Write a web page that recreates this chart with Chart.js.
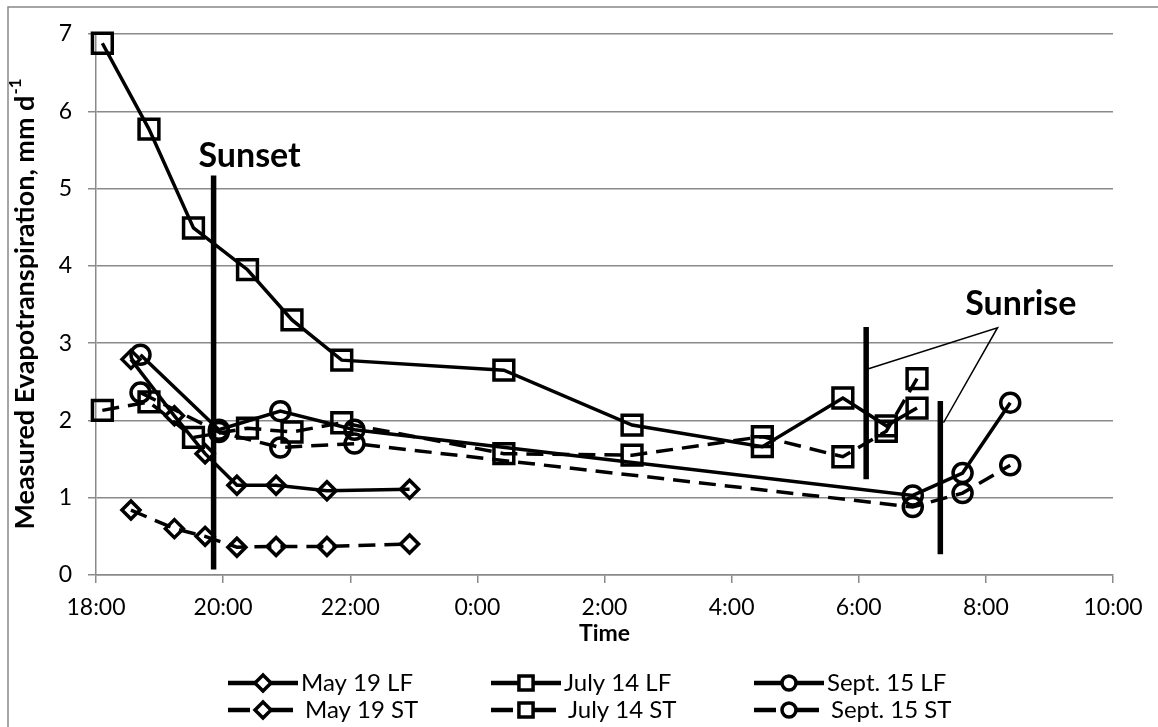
<!DOCTYPE html>
<html><head><meta charset="utf-8">
<script src="https://cdn.jsdelivr.net/npm/chart.js@4.4.1/dist/chart.umd.min.js"></script>
<style>html,body{margin:0;padding:0;background:#fff}#wrap{width:1158px;height:727px;position:relative}</style>
</head><body><div id="wrap"><canvas id="c" width="1158" height="727"></canvas></div>
<script>
// ---------- data ----------
const xTickLabels = ["18:00","20:00","22:00","0:00","2:00","4:00","6:00","8:00","10:00"];
const yTickLabels = ["0","1","2","3","4","5","6","7"];

const mayTimes = ["18:33","19:14","19:43","20:13","20:50","21:38","22:56"];
const mayLF    = [2.79, 2.06, 1.57, 1.16, 1.16, 1.09, 1.11];
const mayST    = [0.84, 0.60, 0.50, 0.36, 0.37, 0.37, 0.40];

const julyTimes = ["18:06","18:50","19:32","20:23","21:05","21:52","00:25","02:26","04:29","05:45","06:26","06:55"];
const julyLF    = [6.88, 5.77, 4.49, 3.95, 3.30, 2.78, 2.65, 1.94, 1.66, 2.29, 1.93, 2.16];
const julyST    = [2.13, 2.24, 1.78, 1.90, 1.85, 1.97, 1.57, 1.55, 1.79, 1.53, 1.86, 2.54];

const septTimes = ["18:42","19:56","20:54","22:04","06:51","07:38","08:23"];
const septLF    = [2.85, 1.88, 2.12, 1.88, 1.03, 1.32, 2.23];
const septST    = [2.36, 1.85, 1.65, 1.70, 0.88, 1.06, 1.42];

const sunsetTime = "19:51";
const sunsetSpan = [0.07, 5.17];
const sunriseTimes = ["06:07","07:17"];
const sunriseSpans = [[1.24, 3.21], [0.27, 2.25]];
const calloutTimes  = ["06:07","08:11","07:20"];
const calloutValues = [2.66, 3.20, 1.97];

const seriesNames = ["May 19 LF","July 14 LF","Sept. 15 LF","May 19 ST","July 14 ST","Sept. 15 ST"];

// ---------- helpers ----------
function toHours(t){ const [h,m] = t.split(':').map(Number); return (h < 12 ? h + 24 : h) + m/60; }
function pts(times, vals){ return times.map((t,i)=>({x: toHours(t), y: vals[i]})); }

const FONT = 'Lato, "Open Sans", "Liberation Sans", sans-serif';
Chart.defaults.font.family = FONT;
Chart.defaults.color = '#000';
const GRID = '#8a8a8a';
const DASH = [17, 9];

function series(label, data, style, dashed, radius){
  return {label, data, borderColor:'#000', borderWidth:3.5, borderDash: dashed ? DASH : [],
    pointStyle: style, pointRadius: radius, pointHoverRadius: radius, pointBorderWidth:3.5,
    pointBorderColor:'#000', pointBackgroundColor:'rgba(0,0,0,0)', fill:false, tension:0, clip:false};
}
function refLine(data, width){
  return {data, borderColor:'#000', borderWidth: width, pointRadius:0, pointHoverRadius:0, fill:false, tension:0, clip:false};
}

const datasets = [
  refLine([{x:toHours(sunsetTime), y:sunsetSpan[0]},{x:toHours(sunsetTime), y:sunsetSpan[1]}], 5.5),
  refLine([{x:toHours(sunriseTimes[0]), y:sunriseSpans[0][0]},{x:toHours(sunriseTimes[0]), y:sunriseSpans[0][1]}], 5.5),
  refLine([{x:toHours(sunriseTimes[1]), y:sunriseSpans[1][0]},{x:toHours(sunriseTimes[1]), y:sunriseSpans[1][1]}], 5.5),
  refLine(pts(calloutTimes, calloutValues), 1.5),
  series(seriesNames[0], pts(mayTimes, mayLF), 'rectRot', false, 9),
  series(seriesNames[1], pts(julyTimes, julyLF), 'rect', false, 14),
  series(seriesNames[2], pts(septTimes, septLF), 'circle', false, 9.5),
  series(seriesNames[3], pts(mayTimes, mayST), 'rectRot', true, 9),
  series(seriesNames[4], pts(julyTimes, julyST), 'rect', true, 14),
  series(seriesNames[5], pts(septTimes, septST), 'circle', true, 9.5),
];

function drawMarker(ctx, style, x, y, r){
  ctx.beginPath();
  if (style === 'rect'){ const s = r*Math.SQRT1_2; ctx.rect(x-s, y-s, 2*s, 2*s); }
  else if (style === 'rectRot'){ ctx.moveTo(x-r,y); ctx.lineTo(x,y-r); ctx.lineTo(x+r,y); ctx.lineTo(x,y+r); ctx.closePath(); }
  else { ctx.arc(x,y,r,0,Math.PI*2); }
  ctx.fillStyle = '#fff'; ctx.fill();
  ctx.stroke();
}

const decor = {
  id:'decor',
  beforeDraw(chart){
    const ctx = chart.ctx;
    ctx.save();
    ctx.fillStyle = '#fff'; ctx.fillRect(0,0,chart.width,chart.height);
    ctx.strokeStyle = '#888'; ctx.lineWidth = 1.5;
    ctx.beginPath(); ctx.moveTo(8, chart.height+2); ctx.lineTo(8, 7); ctx.lineTo(chart.width+2, 7); ctx.stroke();
    ctx.restore();
  },
  afterDraw(chart){
    const ctx = chart.ctx, xs = chart.scales.x, ys = chart.scales.y, area = chart.chartArea;
    ctx.save();
    ctx.fillStyle = '#000';
    // annotation labels
    ctx.font = 'bold 34px ' + FONT;
    ctx.textAlign = 'center'; ctx.textBaseline = 'middle';
    ctx.fillText('Sunset', xs.getPixelForValue(toHours("20:25")), ys.getPixelForValue(5.42));
    ctx.fillText('Sunrise', xs.getPixelForValue(toHours("08:33")), ys.getPixelForValue(3.50));
    // x title
    ctx.font = 'bold 23px ' + FONT;
    ctx.fillText('Time', (area.left+area.right)/2, 634);
    // y title with superscript
    ctx.save();
    ctx.translate(24, (area.top+area.bottom)/2);
    ctx.rotate(-Math.PI/2);
    const main = 'Measured Evapotranspiration, mm d';
    ctx.font = 'bold 27px ' + FONT;
    const w1 = ctx.measureText(main).width;
    ctx.font = 'bold 17px ' + FONT;
    const w2 = ctx.measureText('-1').width;
    const start = -(w1+w2)/2;
    ctx.textAlign = 'left'; ctx.textBaseline = 'alphabetic';
    ctx.font = 'bold 27px ' + FONT;
    ctx.fillText(main, start, 10);
    ctx.font = 'bold 17px ' + FONT;
    ctx.fillText('-1', start + w1 + 1, -3);
    ctx.restore();
    // legend
    const cols = [228, 491, 754], rows = [683, 710];
    const styles = ['rectRot','rect','circle'];
    const mr = {rectRot:8, rect:10, circle:7};
    ctx.strokeStyle = '#000';
    for (let r=0;r<2;r++){
      for (let c=0;c<3;c++){
        const x0 = cols[c], y = rows[r];
        ctx.lineWidth = 4.5;
        ctx.setLineDash(r===1 ? [22,21] : []);
        ctx.beginPath(); ctx.moveTo(x0, y); ctx.lineTo(x0+70, y); ctx.stroke();
        ctx.setLineDash([]);
        ctx.lineWidth = 3.5;
        drawMarker(ctx, styles[c], x0+35, y, mr[styles[c]]);
        ctx.font = '24px ' + FONT; ctx.textAlign='left'; ctx.textBaseline='middle'; ctx.fillStyle='#000';
        ctx.fillText(seriesNames[r*3+c], x0 + 73 + (r===1?4:0), y);
      }
    }
    ctx.restore();
  }
};

new Chart(document.getElementById('c'), {
  type:'line',
  data:{datasets},
  options:{
    responsive:false, animation:false, events:[],
    layout:{padding:{left:0, right:45, top:34, bottom:0}},
    plugins:{legend:{display:false}, tooltip:{enabled:false}},
    scales:{
      x:{type:'linear', min:18, max:34,
        ticks:{stepSize:2, autoSkip:false, maxRotation:0, padding:11, font:{size:23}, color:'#000',
          callback:(v)=>xTickLabels[Math.round((v-18)/2)]},
        grid:{drawOnChartArea:false, drawTicks:true, tickLength:8, color:GRID, lineWidth:1.5},
        border:{display:true, color:GRID, width:1.5},
        afterFit:(s)=>{ s.height = 152; }},
      y:{min:0, max:7,
        ticks:{stepSize:1, padding:16, font:{size:23}, color:'#000', callback:(v)=>yTickLabels[Math.round(v)]},
        grid:{color:GRID, lineWidth:1.5, tickLength:8, drawTicks:true},
        border:{display:true, color:GRID, width:1.5},
        afterFit:(s)=>{ s.width = 96; }}
    }
  },
  plugins:[decor]
});
</script></body></html>
